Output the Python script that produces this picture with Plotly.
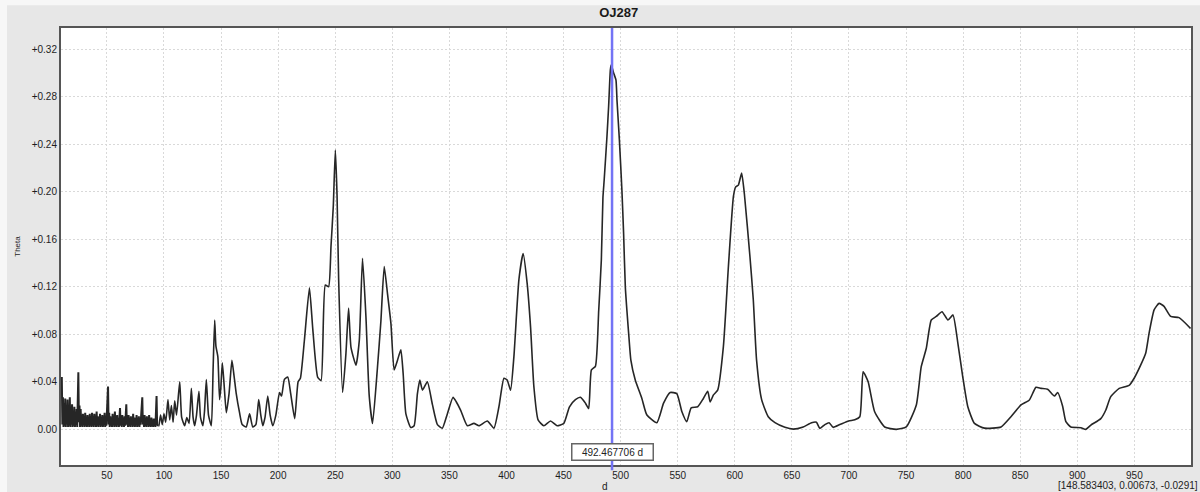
import plotly.graph_objects as go

# PDM periodogram of OJ287: trial period (d) vs. theta statistic

# Densely sampled short-period section (10 - 95 d)
dense_period = [
    10.0, 10.5, 11.0, 11.5, 12.0, 12.5, 13.0, 13.5, 14.0, 14.5, 15.0, 15.5, 16.0, 16.5,
    17.0, 17.5, 18.0, 18.5, 19.0, 19.5, 20.0, 20.5, 21.0, 21.5, 22.0, 22.5, 23.0, 23.5,
    24.0, 24.5, 25.0, 25.5, 26.0, 26.5, 27.0, 27.5, 28.0, 28.5, 29.0, 29.5, 30.0, 30.5,
    31.0, 31.5, 32.0, 32.5, 33.0, 33.5, 34.0, 34.5, 35.0, 35.5, 36.0, 36.5, 37.0, 37.5,
    38.0, 38.5, 39.0, 39.5, 40.0, 40.5, 41.0, 41.5, 42.0, 42.5, 43.0, 43.5, 44.0, 44.5,
    45.0, 45.5, 46.0, 46.5, 47.0, 47.5, 48.0, 48.5, 49.0, 49.5, 50.0, 50.5, 51.0, 51.5,
    52.0, 52.5, 53.0, 53.5, 54.0, 54.5, 55.0, 55.5, 56.0, 56.5, 57.0, 57.5, 58.0, 58.5,
    59.0, 59.5, 60.0, 60.5, 61.0, 61.5, 62.0, 62.5, 63.0, 63.5, 64.0, 64.5, 65.0, 65.5,
    66.0, 66.5, 67.0, 67.5, 68.0, 68.5, 69.0, 69.5, 70.0, 70.5, 71.0, 71.5, 72.0, 72.5,
    73.0, 73.5, 74.0, 74.5, 75.0, 75.5, 76.0, 76.5, 77.0, 77.5, 78.0, 78.5, 79.0, 79.5,
    80.0, 80.5, 81.0, 81.5, 82.0, 82.5, 83.0, 83.5, 84.0, 84.5, 85.0, 85.5, 86.0, 86.5,
    87.0, 87.5, 88.0, 88.5, 89.0, 89.5, 90.0, 90.5, 91.0, 91.5, 92.0, 92.5, 93.0, 93.5,
    94.0, 94.5, 95.0,
]
dense_theta = [
    0.030, 0.044, 0.004, 0.027, 0.002, 0.022, 0.003, 0.026, 0.002, 0.018, 0.004, 0.025, 0.002, 0.020,
    0.003, 0.027, 0.002, 0.016, 0.004, 0.021, 0.002, 0.014, 0.003, 0.019, 0.002, 0.012, 0.004, 0.017,
    0.002, 0.030, 0.048, 0.006, 0.020, 0.002, 0.017, 0.003, 0.011, 0.002, 0.013, 0.004, 0.009, 0.002,
    0.014, 0.003, 0.010, 0.002, 0.012, 0.004, 0.008, 0.002, 0.013, 0.003, 0.011, 0.002, 0.014, 0.003,
    0.010, 0.002, 0.013, 0.004, 0.009, 0.002, 0.015, 0.003, 0.011, 0.002, 0.008, 0.004, 0.013, 0.002,
    0.010, 0.003, 0.012, 0.002, 0.009, 0.004, 0.014, 0.002, 0.010, 0.003, 0.012, 0.020, 0.036, 0.004,
    0.014, 0.002, 0.011, 0.003, 0.009, 0.002, 0.013, 0.004, 0.008, 0.002, 0.015, 0.003, 0.010, 0.002,
    0.012, 0.004, 0.009, 0.002, 0.013, 0.018, 0.003, 0.010, 0.002, 0.012, 0.004, 0.008, 0.002, 0.011,
    0.003, 0.014, 0.021, 0.004, 0.010, 0.002, 0.012, 0.003, 0.008, 0.002, 0.011, 0.004, 0.009, 0.002,
    0.013, 0.003, 0.010, 0.002, 0.008, 0.004, 0.012, 0.002, 0.009, 0.003, 0.011, 0.002, 0.008, 0.004,
    0.014, 0.020, 0.027, 0.004, 0.010, 0.002, 0.012, 0.003, 0.008, 0.002, 0.011, 0.004, 0.009, 0.002,
    0.012, 0.003, 0.008, 0.002, 0.010, 0.003, 0.007, 0.002, 0.009, 0.003, 0.006, 0.002, 0.020, 0.028,
    0.004, 0.003, 0.003,
]

# Longer-period section (95 - 1000 d)
period = [
    95.0, 95.5, 97.0, 98.5, 100.0, 101.5, 103.5, 105.0, 106.5, 108.0, 109.4, 111.0, 113.8, 115.5,
    118.1, 120.0, 122.0, 124.0, 125.5, 126.9, 128.5, 130.6, 132.0, 134.1, 135.5, 137.1, 139.0,
    141.5, 143.0, 144.4, 145.5, 147.2, 148.7, 149.8, 151.1, 152.5, 154.6, 157.0, 159.5, 161.0,
    163.3, 166.2, 168.5, 172.0, 175.0, 177.8, 180.5, 183.0, 184.8, 186.6, 188.5, 190.9, 193.0,
    195.3, 198.0, 201.2, 203.0, 205.5, 208.4, 211.0, 214.5, 217.5, 219.5, 223.0, 227.4, 230.3,
    234.6, 237.6, 241.3, 244.2, 246.3, 248.3, 250.1, 251.6, 253.0, 256.5, 259.4, 261.7, 263.8,
    268.2, 271.1, 273.9, 276.9, 279.8, 282.7, 287.0, 290.0, 292.9, 295.8, 298.8, 301.6, 304.5,
    307.5, 309.5, 311.9, 316.2, 319.1, 322.0, 324.1, 326.4, 330.7, 335.1, 339.5, 343.8, 348.2,
    353.2, 356.1, 359.9, 365.7, 371.5, 375.9, 383.2, 389.0, 393.4, 397.8, 400.6, 403.6, 406.5,
    410.9, 414.6, 418.1, 421.1, 424.0, 427.7, 432.7, 438.6, 444.3, 450.2, 455.2, 460.4, 464.8,
    469.2, 472.0, 474.4, 477.9, 480.8, 483.1, 484.5, 485.6, 488.0, 489.5, 491.0, 491.8, 493.8,
    495.9, 496.8, 498.9, 501.1, 502.6, 504.1, 507.0, 509.0, 512.8, 518.6, 523.0, 531.7, 537.6,
    543.4, 549.2, 553.6, 557.9, 561.8, 567.5, 572.5, 576.3, 578.4, 581.3, 585.0, 590.0, 594.4,
    598.8, 600.8, 603.1, 606.0, 608.4, 613.3, 616.2, 619.1, 623.5, 629.3, 635.2, 643.9, 651.2,
    659.9, 667.2, 671.5, 674.5, 678.9, 682.6, 686.1, 692.0, 699.7, 705.1, 709.5, 712.4, 716.8,
    722.5, 731.3, 741.5, 750.2, 759.0, 763.3, 767.7, 772.1, 776.5, 781.5, 786.7, 791.1, 795.4,
    799.7, 804.1, 809.9, 818.7, 833.2, 841.9, 850.7, 858.0, 863.8, 868.2, 874.0, 879.9, 882.8,
    887.1, 890.0, 894.4, 903.2, 907.5, 911.9, 920.6, 925.0, 929.3, 936.7, 945.4, 949.8, 955.5,
    959.9, 962.9, 967.3, 971.6, 976.0, 981.8, 989.1, 999.2,
]
theta = [
    0.003, 0.003, 0.012, 0.004, 0.013, 0.006, 0.025, 0.008, 0.020, 0.006, 0.024, 0.012, 0.040, 0.010,
    0.003, 0.010, 0.005, 0.0345, 0.010, 0.003, 0.012, 0.032, 0.010, 0.003, 0.015, 0.042, 0.012,
    0.003, 0.050, 0.092, 0.070, 0.061, 0.025, 0.035, 0.056, 0.040, 0.014, 0.030, 0.058, 0.048,
    0.030, 0.014, 0.004, 0.002, 0.013, 0.002, 0.004, 0.025, 0.012, 0.003, 0.010, 0.028, 0.012,
    0.003, 0.012, 0.031, 0.028, 0.042, 0.044, 0.030, 0.009, 0.040, 0.043, 0.075, 0.119, 0.085,
    0.044, 0.041, 0.1215, 0.120, 0.154, 0.1875, 0.235, 0.197, 0.126, 0.031, 0.064, 0.102, 0.069,
    0.054, 0.075, 0.144, 0.095, 0.028, 0.005, 0.052, 0.091, 0.137, 0.114, 0.089, 0.050, 0.058,
    0.067, 0.047, 0.013, 0.0015, 0.003, 0.030, 0.0415, 0.033, 0.040, 0.021, 0.004, 0.001, 0.013,
    0.027, 0.023, 0.016, 0.003, 0.005, 0.003, 0.007, 0.001, 0.019, 0.043, 0.0415, 0.033, 0.061,
    0.126, 0.148, 0.123, 0.086, 0.036, 0.008, 0.003, 0.007, 0.003, 0.005, 0.019, 0.025, 0.027,
    0.022, 0.0175, 0.050, 0.053, 0.100, 0.1425, 0.195, 0.210, 0.246, 0.272, 0.3025, 0.3068, 0.300,
    0.294, 0.277, 0.2436, 0.2015, 0.165, 0.120, 0.081, 0.058, 0.0415, 0.026, 0.012, 0.0056, 0.022,
    0.031, 0.030, 0.015, 0.0064, 0.018, 0.019, 0.026, 0.032, 0.023, 0.029, 0.033, 0.0696, 0.137,
    0.196, 0.204, 0.2055, 0.2156, 0.198, 0.145, 0.109, 0.058, 0.025, 0.0106, 0.0056, 0.0017, 0.0002,
    0.002, 0.0056, 0.006, 0.0008, 0.004, 0.0056, 0.0017, 0.004, 0.007, 0.008, 0.0106, 0.0485, 0.040,
    0.0148, 0.002, 0.000, 0.002, 0.0205, 0.0527, 0.068, 0.092, 0.095, 0.099, 0.092, 0.0963, 0.0724,
    0.044, 0.019, 0.005, 0.001, 0.002, 0.0106, 0.0205, 0.0247, 0.0354, 0.0345, 0.0337, 0.028, 0.031,
    0.0197, 0.0064, 0.002, 0.0014, 0.000, 0.0036, 0.009, 0.0163, 0.0275, 0.0345, 0.037, 0.043, 0.054,
    0.064, 0.081, 0.1005, 0.106, 0.1035, 0.095, 0.094, 0.085,
]

x_ticks = [50, 100, 150, 200, 250, 300, 350, 400, 450, 500, 550, 600, 650, 700, 750, 800, 850, 900, 950]
y_ticks = [0.00, 0.04, 0.08, 0.12, 0.16, 0.20, 0.24, 0.28, 0.32]
y_tick_labels = ["0.00", "+0.04", "+0.08", "+0.12", "+0.16", "+0.20", "+0.24", "+0.28", "+0.32"]

cursor_period = 492.467706
status_text = "[148.583403, 0.00673, -0.0291]"

line_color = "#262626"

fig = go.Figure()
fig.add_trace(go.Scatter(
    x=dense_period, y=dense_theta,
    mode="lines", line=dict(color=line_color, width=2),
    hoverinfo="skip", showlegend=False,
))
fig.add_trace(go.Scatter(
    x=period, y=theta,
    mode="lines", line=dict(color=line_color, width=1.6, shape="spline", smoothing=0.5),
    hoverinfo="skip", showlegend=False,
))

font_family = "Liberation Sans, Arial, sans-serif"
grid_style = dict(showgrid=True, gridcolor="#d9d9d9", griddash="2px,2px", gridwidth=1)
frame_style = dict(showline=True, linecolor="#555555", linewidth=2, mirror=True, zeroline=False, ticks="")

fig.update_layout(
    width=1200,
    height=492,
    margin=dict(l=61, r=7, t=28, b=27),
    paper_bgcolor="#e7e7e7",
    plot_bgcolor="#ffffff",
    font=dict(family=font_family, size=10, color="#1e1e1e"),
    title=dict(
        text="<b>OJ287</b>",
        x=0.4936, xref="paper", xanchor="center",
        y=0.975, yref="container", yanchor="middle",
        font=dict(size=13, color="#1a1a1a"),
    ),
    xaxis=dict(
        range=[9.8, 999.6],
        tickvals=x_ticks,
        tickfont=dict(size=10, color="#1e1e1e"),
        **grid_style, **frame_style,
    ),
    yaxis=dict(
        range=[-0.030, 0.3377],
        tickvals=y_ticks,
        ticktext=y_tick_labels,
        tickfont=dict(size=10, color="#1e1e1e"),
        title=dict(text="Theta", font=dict(size=8), standoff=10),
        **grid_style, **frame_style,
    ),
)

# Light frame strips along the top and left of the window
fig.add_shape(type="rect", xref="paper", yref="paper",
              x0=-0.06, x1=1.01, y0=1.052, y1=1.07,
              fillcolor="#f7f7f7", line=dict(width=0), layer="below")
fig.add_shape(type="rect", xref="paper", yref="paper",
              x0=-0.06, x1=-0.0478, y0=-0.07, y1=1.07,
              fillcolor="#f7f7f7", line=dict(width=0), layer="below")

# Cursor line and its readout
fig.add_shape(
    type="line", xref="x", yref="paper",
    x0=cursor_period, x1=cursor_period, y0=-0.012, y1=1,
    line=dict(color="#7373f5", width=2.5),
)
fig.add_annotation(
    x=cursor_period, xref="x", y=0.03, yref="paper",
    text=f"{cursor_period:.6f} d",
    showarrow=False,
    font=dict(size=10, color="#222222"),
    bgcolor="#ffffff",
    bordercolor="#666666",
    borderwidth=1.5,
    borderpad=2,
    width=76,
    xanchor="center", yanchor="middle",
)

# Axis caption for the period axis
fig.add_annotation(
    x=0.4815, xref="paper", y=-0.050, yref="paper",
    text="d", showarrow=False,
    font=dict(size=10, color="#222222"),
    xanchor="center", yanchor="middle",
)

# Status readout in the bottom-right corner
fig.add_annotation(
    x=0.8807, xref="paper", y=-0.048, yref="paper",
    text=status_text,
    showarrow=False,
    font=dict(size=10, color="#222222"),
    xanchor="left", yanchor="middle",
)

fig.write_html("out.html")
